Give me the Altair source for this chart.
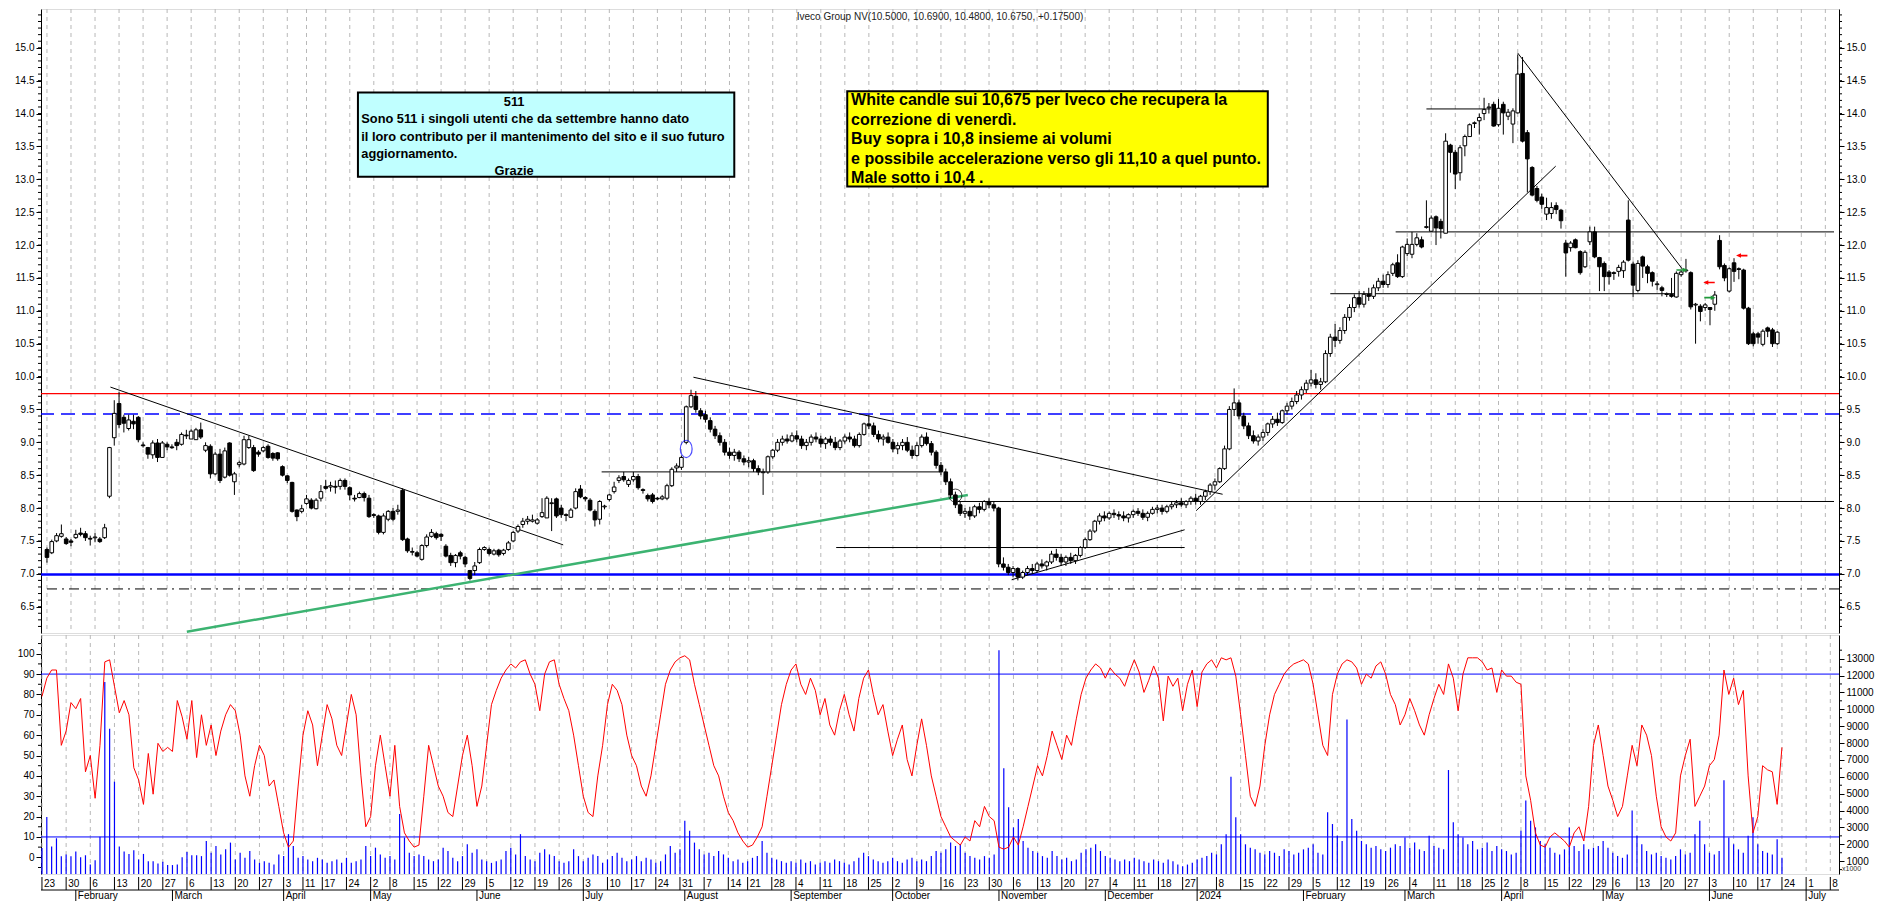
import altair as alt
import numpy as np
import pandas as pd

# ---------------- calendar (trading days) ----------------
HOLIDAYS = {"2023-04-07", "2023-04-10", "2023-05-01", "2023-08-15", "2023-12-25", "2023-12-26",
            "2024-01-01", "2024-03-29", "2024-04-01", "2024-05-01"}
CAL = [d for d in pd.bdate_range("2023-01-23", "2024-07-12") if d.strftime("%Y-%m-%d") not in HOLIDAYS]

# ---------------- price data ----------------
OPEN_A = [7.37, 7.32, 7.50, 7.57, 7.53, 7.50, 7.55, 7.62, 7.61, 7.54, 7.55, 7.53, 7.55, 8.18, 9.07, 9.59, 9.38, 9.21, 9.32, 9.38,
          8.96, 8.92, 8.81, 8.99, 8.77, 8.97, 8.93, 9.00, 8.97, 9.11, 9.05, 9.04, 9.19, 8.88, 8.94, 8.52, 8.82, 8.47, 8.99, 8.40,
          8.66, 8.67, 8.92, 8.92, 8.85, 8.87, 8.94, 8.83, 8.84, 8.63, 8.49, 8.39, 7.97, 7.95, 8.07, 8.12, 7.99, 8.15, 8.33, 8.32,
          8.33, 8.33, 8.42, 8.31, 8.15, 8.16, 8.22, 8.15, 7.90, 7.88, 7.63, 7.83, 7.95, 7.95, 8.27, 7.53, 7.33, 7.32, 7.22, 7.43,
          7.57, 7.61, 7.60, 7.42, 7.28, 7.17, 7.32, 7.25, 7.05, 7.05, 7.17, 7.37, 7.37, 7.30, 7.36, 7.31, 7.37, 7.50, 7.65, 7.75,
          7.80, 7.80, 7.77, 7.87, 7.85, 8.07, 8.14, 8.00, 7.90, 7.86, 8.00, 8.29, 8.16, 8.12, 7.95, 7.83, 8.02, 8.13, 8.25, 8.42,
          8.48, 8.36, 8.43, 8.48, 8.28, 8.19, 8.20, 8.15, 8.14, 8.15, 8.34, 8.61, 8.62, 9.00, 9.54]
HIGH_A = [7.40, 7.52, 7.62, 7.75, 7.56, 7.53, 7.67, 7.70, 7.65, 7.58, 7.62, 7.56, 7.76, 8.93, 9.64, 9.77, 9.42, 9.42, 9.42, 9.40,
          9.00, 8.93, 9.03, 9.05, 9.02, 9.00, 8.97, 9.05, 9.15, 9.19, 9.20, 9.22, 9.30, 9.00, 8.97, 8.85, 8.90, 8.92, 9.00, 8.55,
          8.72, 9.10, 9.10, 8.96, 8.88, 8.95, 8.97, 8.85, 8.85, 8.65, 8.50, 8.40, 7.98, 8.05, 8.20, 8.15, 8.15, 8.35, 8.43, 8.40,
          8.42, 8.45, 8.45, 8.33, 8.20, 8.25, 8.25, 8.20, 7.92, 7.90, 7.92, 7.97, 8.00, 8.05, 8.30, 7.55, 7.40, 7.35, 7.45, 7.60,
          7.68, 7.64, 7.62, 7.45, 7.32, 7.30, 7.35, 7.27, 7.06, 7.18, 7.40, 7.42, 7.40, 7.38, 7.38, 7.38, 7.50, 7.65, 7.75, 7.85,
          7.88, 7.90, 7.85, 8.15, 8.18, 8.15, 8.16, 8.05, 7.92, 8.00, 8.30, 8.35, 8.18, 8.15, 7.98, 8.12, 8.05, 8.22, 8.40, 8.50,
          8.55, 8.45, 8.55, 8.52, 8.30, 8.22, 8.23, 8.17, 8.20, 8.37, 8.62, 8.68, 8.80, 9.56, 9.80]
LOW_A = [7.17, 7.30, 7.48, 7.55, 7.44, 7.42, 7.53, 7.57, 7.50, 7.43, 7.48, 7.47, 7.53, 8.15, 8.95, 9.22, 9.15, 9.18, 9.20, 9.00,
         8.92, 8.75, 8.75, 8.70, 8.77, 8.88, 8.90, 8.88, 8.95, 9.05, 9.05, 9.04, 9.05, 8.85, 8.45, 8.50, 8.38, 8.45, 8.48, 8.20,
         8.62, 8.65, 8.90, 8.55, 8.78, 8.85, 8.75, 8.72, 8.72, 8.48, 8.38, 7.93, 7.80, 7.92, 8.05, 7.98, 7.98, 8.10, 8.28, 8.25,
         8.22, 8.28, 8.28, 8.12, 8.10, 8.15, 8.10, 7.85, 7.85, 7.60, 7.60, 7.80, 7.80, 7.90, 7.50, 7.32, 7.28, 7.25, 7.20, 7.40,
         7.55, 7.52, 7.50, 7.25, 7.12, 7.10, 7.22, 7.10, 6.90, 6.98, 7.15, 7.35, 7.28, 7.28, 7.26, 7.28, 7.35, 7.48, 7.62, 7.70,
         7.75, 7.78, 7.75, 7.85, 7.85, 7.65, 7.85, 7.85, 7.80, 7.85, 7.98, 8.15, 8.10, 7.95, 7.72, 7.75, 7.98, 8.10, 8.22, 8.38,
         8.40, 8.32, 8.40, 8.28, 8.22, 8.10, 8.07, 8.12, 8.12, 8.12, 8.32, 8.55, 8.58, 8.97, 9.52]
CLOSE_A = [7.25, 7.49, 7.58, 7.61, 7.46, 7.48, 7.60, 7.60, 7.55, 7.53, 7.56, 7.49, 7.70, 8.92, 9.44, 9.27, 9.29, 9.34, 9.28, 9.04,
           8.95, 8.82, 8.99, 8.77, 8.99, 8.93, 8.92, 8.95, 9.12, 9.10, 9.17, 9.19, 9.08, 8.95, 8.52, 8.82, 8.42, 8.87, 8.50, 8.52,
           8.69, 9.04, 9.04, 8.57, 8.82, 8.92, 8.77, 8.76, 8.75, 8.50, 8.42, 7.95, 7.87, 7.99, 8.14, 8.00, 8.12, 8.25, 8.30, 8.34,
           8.32, 8.42, 8.33, 8.20, 8.14, 8.22, 8.16, 7.87, 7.89, 7.63, 7.88, 7.95, 7.83, 7.97, 7.52, 7.35, 7.34, 7.27, 7.43, 7.56,
           7.63, 7.55, 7.57, 7.27, 7.17, 7.28, 7.27, 7.15, 6.93, 7.12, 7.37, 7.40, 7.31, 7.35, 7.29, 7.36, 7.47, 7.63, 7.72, 7.80,
           7.83, 7.82, 7.82, 7.93, 8.15, 8.08, 7.88, 7.90, 7.89, 7.97, 8.25, 8.17, 8.14, 7.97, 7.82, 8.10, 8.03, 8.20, 8.32, 8.46,
           8.43, 8.42, 8.48, 8.31, 8.27, 8.14, 8.10, 8.14, 8.17, 8.34, 8.59, 8.64, 8.77, 9.54, 9.71]

OPEN_B = [9.70, 9.48, 9.42, 9.33, 9.20, 9.10, 9.00, 8.85, 8.80, 8.85, 8.75, 8.70, 8.72, 8.60, 8.55, 8.55, 8.78, 8.88, 9.00, 9.05,
          9.02, 9.10, 9.05, 8.95, 9.00, 9.08, 9.05, 8.98, 9.05, 9.00, 8.92, 9.02, 9.08, 9.05, 8.95, 9.12, 9.28, 9.25, 9.12, 9.05,
          9.08, 9.00, 8.90, 8.95, 9.00, 8.88, 8.80, 8.95, 9.08, 8.98, 8.85, 8.65, 8.55, 8.40, 8.20, 8.05, 7.92, 7.95, 7.88, 8.02,
          7.98, 8.10, 8.05, 8.00, 7.15, 7.10, 7.02, 7.08, 6.95, 7.02, 7.08, 7.05, 7.15, 7.12, 7.18, 7.30, 7.25, 7.18, 7.25, 7.20,
          7.28, 7.40, 7.52, 7.65, 7.80, 7.88, 7.85, 7.92, 7.90, 7.88, 7.85, 7.90, 7.95, 7.92, 7.86, 7.92, 7.98, 8.00, 7.95, 8.02,
          8.05, 8.08, 8.05, 8.10, 8.15, 8.10, 8.18, 8.25, 8.35, 8.40, 8.60, 8.90, 9.50, 9.60, 9.40, 9.25, 9.10, 9.02, 9.08, 9.15,
          9.28, 9.35, 9.30, 9.48, 9.55, 9.62, 9.72, 9.80, 9.90, 9.95, 9.88, 9.92, 10.35, 10.60, 10.55, 10.70, 10.90, 11.05, 11.20,
          11.10, 11.25, 11.22, 11.35, 11.45, 11.40]
HIGH_B = [9.78, 9.52, 9.48, 9.38, 9.25, 9.15, 9.05, 8.92, 8.90, 8.88, 8.80, 8.78, 8.75, 8.65, 8.60, 8.80, 8.90, 9.05, 9.10, 9.12,
          9.15, 9.18, 9.10, 9.05, 9.12, 9.15, 9.10, 9.08, 9.10, 9.08, 9.05, 9.12, 9.15, 9.10, 9.15, 9.30, 9.42, 9.30, 9.18, 9.12,
          9.15, 9.05, 9.00, 9.05, 9.08, 8.95, 9.00, 9.12, 9.15, 9.02, 8.88, 8.70, 8.60, 8.45, 8.25, 8.10, 8.00, 8.02, 8.05, 8.08,
          8.12, 8.15, 8.10, 8.02, 7.25, 7.15, 7.12, 7.10, 7.05, 7.12, 7.15, 7.18, 7.22, 7.20, 7.35, 7.38, 7.30, 7.28, 7.32, 7.30,
          7.42, 7.55, 7.68, 7.82, 7.92, 7.95, 7.95, 7.98, 7.95, 7.95, 7.92, 7.98, 8.00, 7.98, 7.95, 8.02, 8.05, 8.05, 8.05, 8.10,
          8.12, 8.15, 8.12, 8.18, 8.22, 8.20, 8.28, 8.38, 8.45, 8.62, 8.95, 9.55, 9.82, 9.65, 9.45, 9.30, 9.18, 9.12, 9.20, 9.30,
          9.40, 9.45, 9.50, 9.60, 9.68, 9.78, 9.85, 9.95, 10.10, 10.05, 9.98, 10.40, 10.65, 10.80, 10.75, 10.95, 11.10, 11.25,
          11.30, 11.30, 11.35, 11.40, 11.50, 11.55, 11.60]
LOW_B = [9.45, 9.35, 9.30, 9.15, 9.05, 8.95, 8.80, 8.75, 8.72, 8.70, 8.65, 8.62, 8.55, 8.50, 8.20, 8.52, 8.75, 8.85, 8.95, 8.98,
         9.00, 9.00, 8.90, 8.88, 8.95, 9.00, 8.92, 8.90, 8.95, 8.88, 8.88, 8.98, 9.00, 8.92, 8.92, 9.10, 9.20, 9.08, 9.00, 8.95,
         8.98, 8.85, 8.82, 8.88, 8.85, 8.75, 8.78, 8.92, 8.95, 8.80, 8.60, 8.50, 8.35, 8.15, 8.00, 7.88, 7.85, 7.82, 7.85, 7.92,
         7.95, 8.00, 7.95, 7.10, 7.05, 6.98, 6.95, 6.90, 6.92, 6.98, 7.00, 7.02, 7.08, 7.05, 7.15, 7.20, 7.12, 7.12, 7.15, 7.15,
         7.25, 7.38, 7.50, 7.62, 7.75, 7.80, 7.82, 7.85, 7.82, 7.80, 7.78, 7.85, 7.88, 7.82, 7.80, 7.90, 7.92, 7.90, 7.92, 7.98,
         8.00, 8.02, 8.00, 8.05, 8.05, 8.05, 8.12, 8.20, 8.28, 8.38, 8.58, 8.88, 9.40, 9.35, 9.20, 9.05, 8.98, 8.95, 9.02, 9.10,
         9.22, 9.25, 9.28, 9.42, 9.50, 9.58, 9.65, 9.75, 9.85, 9.82, 9.80, 9.90, 10.30, 10.45, 10.50, 10.65, 10.85, 10.98, 11.05,
         11.05, 11.15, 11.18, 11.30, 11.35, 11.35]
CLOSE_B = [9.50, 9.40, 9.35, 9.20, 9.10, 9.00, 8.85, 8.80, 8.85, 8.75, 8.70, 8.72, 8.60, 8.55, 8.55, 8.78, 8.88, 9.00, 9.05, 9.02,
           9.10, 9.05, 8.95, 9.00, 9.08, 9.05, 8.98, 9.05, 9.00, 8.92, 9.02, 9.08, 9.05, 8.95, 9.12, 9.28, 9.25, 9.12, 9.05, 9.08,
           9.00, 8.90, 8.95, 9.00, 8.88, 8.80, 8.95, 9.08, 8.98, 8.85, 8.65, 8.55, 8.40, 8.20, 8.05, 7.92, 7.95, 7.88, 8.02, 7.98,
           8.10, 8.05, 8.00, 7.15, 7.10, 7.02, 7.08, 6.95, 7.02, 7.08, 7.05, 7.15, 7.12, 7.18, 7.30, 7.25, 7.18, 7.25, 7.20, 7.28,
           7.40, 7.52, 7.65, 7.80, 7.88, 7.85, 7.92, 7.90, 7.88, 7.85, 7.90, 7.95, 7.92, 7.86, 7.92, 7.98, 8.00, 7.95, 8.02, 8.05,
           8.08, 8.05, 8.10, 8.15, 8.10, 8.18, 8.25, 8.35, 8.40, 8.60, 8.90, 9.50, 9.60, 9.40, 9.25, 9.10, 9.02, 9.08, 9.15, 9.28,
           9.35, 9.30, 9.48, 9.55, 9.62, 9.72, 9.80, 9.90, 9.95, 9.88, 9.92, 10.35, 10.60, 10.55, 10.70, 10.90, 11.05, 11.20,
           11.10, 11.25, 11.22, 11.35, 11.45, 11.40, 11.55]

OPEN_C = [11.57, 11.73, 11.52, 11.87, 11.86, 12.01, 12.08, 12.27, 12.21, 12.43, 12.36, 12.18, 13.52, 13.41, 13.10, 13.51, 13.65,
          13.85, 13.89, 14.00, 14.09, 14.14, 13.83, 14.14, 13.96, 13.84, 14.01, 14.61, 13.71, 13.18, 12.86, 12.73, 12.47, 12.48,
          12.60, 12.53, 12.03, 11.96, 12.08, 11.90, 11.67, 12.05, 12.20, 11.81, 11.72, 11.59, 11.58, 11.60, 11.61, 12.38, 11.71,
          11.31, 11.82, 11.67, 11.58, 11.40, 11.35, 11.25, 11.25, 11.21, 11.55, 11.61, 11.58, 11.09, 11.07, 11.05, 11.05, 11.10,
          12.07, 11.69, 11.30, 11.73, 11.64, 11.62, 11.04, 10.65, 10.65, 10.49, 10.74, 10.71, 10.50]
HIGH_C = [11.73, 11.86, 11.99, 12.10, 12.20, 12.18, 12.13, 12.68, 12.45, 12.45, 12.40, 13.70, 13.54, 13.45, 13.52, 13.68, 13.85,
          13.88, 14.00, 14.24, 14.16, 14.18, 14.22, 14.18, 14.07, 14.08, 14.90, 14.86, 13.75, 13.20, 12.90, 12.78, 12.72, 12.65,
          12.65, 12.55, 12.08, 12.06, 12.10, 11.92, 11.92, 12.28, 12.28, 11.82, 11.75, 11.62, 11.60, 11.70, 11.77, 12.68, 11.75,
          11.77, 11.84, 11.70, 11.60, 11.45, 11.38, 11.28, 11.50, 11.60, 11.62, 11.79, 11.60, 11.12, 11.10, 11.12, 11.05, 11.30,
          12.15, 11.72, 11.66, 11.80, 11.66, 11.64, 11.06, 10.68, 10.68, 10.72, 10.76, 10.74, 10.69]
LOW_C = [11.53, 11.50, 11.50, 11.83, 11.80, 11.98, 11.95, 12.25, 12.20, 12.00, 12.10, 12.18, 13.10, 12.85, 12.98, 13.35, 13.65,
         13.78, 13.68, 13.90, 14.00, 13.80, 13.80, 13.68, 13.90, 13.55, 14.00, 13.56, 12.80, 12.74, 12.65, 12.55, 12.38, 12.40,
         12.47, 12.25, 11.52, 11.90, 11.95, 11.55, 11.65, 12.00, 11.80, 11.30, 11.30, 11.40, 11.47, 11.52, 11.50, 11.75, 11.21,
         11.28, 11.50, 11.42, 11.37, 11.32, 11.22, 11.21, 11.20, 11.20, 11.52, 11.58, 11.02, 10.50, 10.84, 11.00, 10.78, 11.00,
         11.63, 11.45, 11.28, 11.44, 11.48, 11.02, 10.48, 10.46, 10.50, 10.46, 10.60, 10.45, 10.48]
CLOSE_C = [11.70, 11.52, 11.97, 12.01, 12.01, 12.11, 11.97, 12.28, 12.41, 12.26, 12.25, 13.58, 13.41, 13.08, 13.48, 13.65, 13.83,
           13.86, 13.94, 14.06, 14.10, 13.81, 14.08, 14.01, 14.02, 14.04, 14.60, 13.58, 13.31, 12.76, 12.68, 12.62, 12.57, 12.57,
           12.54, 12.37, 11.88, 12.03, 11.96, 11.58, 11.89, 12.20, 11.82, 11.67, 11.52, 11.52, 11.57, 11.66, 11.74, 11.77, 11.39,
           11.72, 11.68, 11.57, 11.45, 11.41, 11.31, 11.26, 11.22, 11.57, 11.59, 11.62, 11.06, 11.10, 10.99, 11.09, 11.02, 11.24,
           11.67, 11.50, 11.64, 11.60, 11.63, 11.04, 10.50, 10.50, 10.60, 10.69, 10.69, 10.50, 10.675]

OPEN = OPEN_A + OPEN_B + OPEN_C
HIGH = HIGH_A + HIGH_B + HIGH_C
LOW = LOW_A + LOW_B + LOW_C
CLOSE = CLOSE_A + CLOSE_B + CLOSE_C
N = min(len(OPEN), len(HIGH), len(LOW), len(CLOSE))

# stochastic oscillator (left scale, 0-100)
STOCH = [79, 88, 92, 92, 55, 62, 76, 73, 78, 42, 50, 29, 55, 96, 97, 84, 71, 77, 70, 44, 38, 26, 51, 31, 56, 52, 54, 52,
         77, 69, 58, 77, 49,
         70, 55, 65, 50, 62, 70, 75, 72, 60, 40, 30, 45, 55, 50, 35, 38, 25, 12,
         5, 8, 35, 60, 72, 65, 45, 60, 75, 68, 55, 50, 65, 80, 70, 40, 15, 20, 45, 60,
         45, 30, 55, 25, 12, 8, 5, 6, 30, 55, 45, 35, 30, 22, 20, 35, 50, 60, 45, 25,
         35, 55, 75, 82, 88, 92, 95, 93, 96, 97, 90, 85, 72, 90, 96, 97, 85, 78, 72, 60,
         45, 30, 22, 20, 40, 55, 75, 85, 82, 75, 60, 50, 45, 35, 30, 40, 55, 70, 85, 92,
         96, 98, 99, 97, 85, 75, 65, 55, 45, 40, 30, 22, 18, 12, 8, 5, 6, 10, 15, 30,
         45, 60, 75, 85, 92, 95, 85, 80, 88, 82, 70, 78, 65, 60, 72, 80, 70, 62, 78, 88,
         92, 80, 70, 75, 62, 50, 58, 65, 48, 40, 55, 68, 55, 40, 30, 20, 15, 10, 8, 6,
         10, 8, 18, 15, 25, 20, 18, 5, 4, 5, 10, 6, 15, 25, 35, 45, 40, 50, 62, 55,
         48, 60, 55, 68, 80, 88, 92, 95, 93, 88, 93, 90, 88, 84, 91, 97, 91, 81, 87, 94,
         88, 67, 89, 84, 88, 72, 85, 92, 74, 91, 95, 97, 93, 98, 97, 98, 89,
         70, 50, 30, 25, 35, 55, 70, 80, 85, 90, 93, 95, 96, 97, 95, 85, 70, 55,
         50, 80, 90, 95, 97, 96, 93, 85, 90, 88, 94, 96, 90, 80, 75, 65, 70, 78, 72, 65, 60, 70, 78, 85, 80,
         95, 88, 72, 90, 98, 98, 98, 96, 92, 93, 81, 92, 89, 89, 86, 85,
         40, 28, 12, 6, 5, 10, 12, 10, 8, 5, 12, 15, 8,
         25, 55, 65, 50, 35, 28, 20, 25, 40, 55, 45, 65, 60, 50, 30, 15, 10, 8, 12, 40, 50, 58, 25, 30, 35, 45, 48,
         60, 92, 80, 88, 75, 82, 40, 12, 20, 45, 43, 42, 26, 54]
# volume, thousands of shares (right scale)
VOL = [1775, 3616, 1870, 2357, 1290, 1390, 1290, 1580, 1230, 1350, 806, 1060, 2450, 11620, 8850, 5710, 1870, 1580, 1430,
       1640, 1100, 1430, 1000, 1000, 860, 960, 770, 770, 810, 1230, 1540, 1350, 1350,
       1300, 2200, 1500, 1900, 1400, 1700, 2100, 1100, 1500, 1200, 1600, 1100, 900, 1000, 900, 800, 1400, 1300, 2600,
       1900, 1200, 1300, 1100, 1000, 1200, 1100, 900, 1000, 1100, 900, 1200, 900, 1000, 1100, 1900, 1300, 1800, 1400,
       1200, 1300, 1100, 3800, 2400, 1500, 1300, 1400, 1300, 1100, 1000, 1100, 1800, 1600, 1200, 1000, 1300, 2000, 1500,
       1700, 1100, 1000, 900, 1000, 1100, 1600, 1800, 1400, 2600, 1300, 1100, 1000, 1500, 1700, 1400, 1300, 1000, 900,
       1000, 1700, 1300, 1000, 1200, 1400, 1300, 900, 1100, 1300, 1500, 1200, 1000, 1100, 1300, 1000, 1200, 1100, 900,
       1000, 1400, 1900, 1500, 1700, 3400, 2800, 2100, 1700, 1400, 1500, 1300, 1600, 1400, 1200, 1000, 1100, 900, 1000,
       1200, 1300, 2200, 1500, 1200, 1100, 1000, 900, 1000, 900, 1100, 900, 1000, 800, 900, 1000, 900, 1100, 1000, 900,
       800, 1000, 1200, 1500, 1300, 1100, 1000, 900, 1000, 1200, 1000, 900, 1100, 1200, 1000, 1100, 1000, 1300, 1600,
       1500, 1700, 2100, 1900, 2000, 1500, 1300, 1200, 1100, 1300, 1200, 1400, 13500, 6500, 4200, 3000, 3500, 2200, 1800,
       1600, 1500, 1300, 1200, 1600, 1300, 1100, 1200, 1000, 1100, 1500, 1700, 1800, 2000, 1600, 1300, 1200, 1100, 1000,
       1100, 1000, 1200, 1100, 1000, 900, 1100, 1000, 900, 1100, 1000, 800, 700, 800, 900, 1100, 1200, 1300, 1500, 1400,
       2000, 2600, 6000, 3600, 2600, 2000, 1800, 1700, 1500, 1400, 1600, 1500, 1300, 1700, 1600, 1400, 1500, 1700, 1800,
       2000, 1500, 1400, 3900, 3200, 2500, 2200, 9400, 3500, 2800, 2200, 2000, 1800, 1900, 1700, 1600, 1800, 2000, 1900,
       2400, 1800, 2100, 1700, 1600, 2500, 1900, 1800, 1700, 6400, 3300, 2600, 2400, 2000, 2200, 1700, 1800, 2100, 1600,
       1900, 1700, 1600, 1400, 1500, 2800, 4600, 3400, 3000, 2200, 2000, 1800, 1500, 1400, 1700, 3000, 1900, 1600, 2000,
       1700, 1800, 1900, 2200, 1800, 1500, 1300, 1200, 1400, 4000, 2500, 2000, 1600, 1400, 1500, 1300, 1200, 1100, 1300,
       1700, 1400, 1500, 2600, 3400, 2000, 1500, 1400, 1600, 5800, 2400, 2000, 1700, 1500, 2500, 3600, 2000, 1600, 1500,
       1400, 2300, 1200]

PRICE_TICKS = [6.5, 7.0, 7.5, 8.0, 8.5, 9.0, 9.5, 10.0, 10.5, 11.0, 11.5, 12.0, 12.5, 13.0, 13.5, 14.0, 14.5, 15.0]
STOCH_TICKS = [0, 10, 20, 30, 40, 50, 60, 70, 80, 90, 100]
VOL_TICKS = [1000, 2000, 3000, 4000, 5000, 6000, 7000, 8000, 9000, 10000, 11000, 12000, 13000]
MONTHS = ["January", "February", "March", "April", "May", "June", "July", "August", "September", "October",
          "November", "December"]

TITLE = "Iveco Group NV(10.5000, 10.6900, 10.4800, 10.6750, +0.17500)"
CYAN_CENTER = ["511", "Grazie"]
CYAN_LEFT = ["Sono 511 i singoli utenti che da settembre hanno dato",
             "il loro contributo per il mantenimento del sito e il suo futuro",
             "aggiornamento."]
YELLOW_LINES = ["White candle sui 10,675 per Iveco che recupera la",
                "correzione di venerdì.",
                "Buy sopra i 10,8 insieme ai volumi",
                "e possibile accelerazione verso gli 11,10 a quel punto.",
                "Male sotto i 10,4 ."]

# ---------------- geometry ----------------
XMIN, XMAX = -0.2, 371.8
W, H1, H2, H3 = 1798, 624, 239, 24
FONT = "Liberation Sans"

XS = alt.Scale(domain=[XMIN, XMAX], nice=False, zero=False)
YP = alt.Scale(domain=[6.10, 15.59], nice=False, zero=False)
YS = alt.Scale(domain=[-8.2, 109.2], nice=False, zero=False)
YV = alt.Scale(domain=[240, 14400], nice=False, zero=False)


def xq(f="i"):
    return alt.X(f + ":Q", scale=XS, axis=None)


def yq(f, sc):
    return alt.Y(f + ":Q", scale=sc, axis=None)


AXB = dict(title=None, grid=False, domainColor="black", tickColor="black", tickSize=5, labelFontSize=10,
           labelFont=FONT, labelColor="black", labelPadding=2)

# ---------------- tables ----------------
candles = pd.DataFrame({"i": range(N), "open": OPEN[:N], "high": HIGH[:N], "low": LOW[:N], "close": CLOSE[:N]})
candles["btop"] = candles[["open", "close"]].max(axis=1)
candles["bbot"] = candles[["open", "close"]].min(axis=1)
thin = (candles["btop"] - candles["bbot"]) < 0.012
candles.loc[thin, "bbot"] = candles.loc[thin, "btop"] - 0.012

osc = pd.DataFrame({"i": range(len(STOCH)), "stoch": STOCH})
vol = pd.DataFrame({"i": range(len(VOL)), "vol": VOL})

week_i, prev = [], None
for k, d in enumerate(CAL):
    key = d.isocalendar()[:2]
    if key != prev:
        week_i.append(k)
        prev = key
week_i = [k for k in week_i if k <= XMAX]
weeks = pd.DataFrame({"i": week_i,
                      "label": ["" if CAL[k].strftime("%Y-%m-%d") == "2024-01-02" else str(CAL[k].day) for k in week_i]})

month_i = [k for k in range(1, len(CAL)) if CAL[k].month != CAL[k - 1].month and k <= XMAX]
months = pd.DataFrame({"i": month_i,
                       "label": ["2024" if CAL[k].month == 1 else MONTHS[CAL[k].month - 1] for k in month_i]})

segs = pd.DataFrame({
    "i": [13.2, 134.5, 200.7, 164.2, 115.4, 189.5, 239.1, 306.0, 287.0, 267.0, 280.6],
    "p": [9.84, 9.99, 6.91, 7.40, 8.55, 8.10, 7.96, 14.92, 14.07, 11.26, 12.20],
    "i2": [107.4, 244.6, 236.7, 236.7, 185.8, XMAX, 313.9, 340.3, 300.4, 339.0, XMAX],
    "p2": [7.44, 8.21, 7.67, 7.40, 8.55, 8.10, 13.20, 11.63, 14.07, 11.26, 12.20],
})
green = pd.DataFrame({"i": [29.1], "p": [6.12], "i2": [191.6], "p2": [8.20]})

boxes = pd.DataFrame({"i": [64.7, 166.5], "i2": [143.0, 254.0], "p": [14.32, 14.34], "p2": [13.04, 12.89],
                      "fill": ["#c0ffff", "#ffff00"]})
cyan_c = pd.DataFrame({"i": [97.2, 97.2], "p": [14.175, 13.13], "t": CYAN_CENTER})
cyan_l = pd.DataFrame({"i": [65.4] * 3, "p": [13.91, 13.65, 13.39], "t": CYAN_LEFT})
yellow = pd.DataFrame({"i": [167.3] * 5, "p": [14.205, 13.906, 13.607, 13.308, 13.024], "t": YELLOW_LINES})
title_df = pd.DataFrame({"i": [185.8], "p": [15.475], "t": [TITLE]})

ellipse = pd.DataFrame({"i": [133.0], "p": [8.90]})
circle = pd.DataFrame({"i": [189.0], "p": [8.19]})
arrows = pd.DataFrame({"i": [340.2, 346.0, 345.8, 352.6], "p": [11.62, 11.20, 11.43, 11.84],
                       "ang": [90, 90, 270, 270], "col": ["#1f9a3a", "#1f9a3a", "#ff0000", "#ff0000"]})

minor_p = pd.DataFrame({"v": [round(v, 1) for v in np.arange(6.2, 15.55, 0.1)]})
minor_s = pd.DataFrame({"v": [-5, 5, 15, 25, 35, 45, 55, 65, 75, 85, 95, 105]})
minor_v = pd.DataFrame({"v": [500 + 1000 * k for k in range(14)]})

# ---------------- upper panel ----------------
grid = alt.Chart(weeks).mark_rule(color="#b8b8b8", strokeDash=[4, 4], strokeWidth=1).encode(x=xq())


def hline(val, **kw):
    return alt.Chart(pd.DataFrame({"p": [val]})).mark_rule(**kw).encode(y=yq("p", YP))


wicks = alt.Chart(candles).mark_rule(color="black", strokeWidth=1).encode(
    x=xq(), y=alt.Y("low:Q", scale=YP, axis=alt.Axis(orient="left", values=PRICE_TICKS, format=".1f",
                                                       minExtent=32, maxExtent=32, **AXB)),
    y2="high:Q")
bodies = alt.Chart(candles).mark_bar(size=3.6, stroke="black", strokeWidth=1).encode(
    x=xq(), y=alt.Y("btop:Q", scale=YP, axis=alt.Axis(orient="right", values=PRICE_TICKS, format=".1f",
                                                        minExtent=35, maxExtent=35, **AXB)),
    y2="bbot:Q",
    fill=alt.condition("datum.close >= datum.open", alt.value("white"), alt.value("black")))

seg_layer = alt.Chart(segs).mark_rule(color="black", strokeWidth=1).encode(
    x=xq(), x2="i2:Q", y=yq("p", YP), y2="p2:Q")
green_layer = alt.Chart(green).mark_rule(color="#3cb371", strokeWidth=2.5).encode(
    x=xq(), x2="i2:Q", y=yq("p", YP), y2="p2:Q")

ell_layer = alt.Chart(ellipse).mark_point(
    shape="M0,-1A0.68,1 0 1,1 0,1A0.68,1 0 1,1 0,-1Z", size=300, color="#0000ff", strokeWidth=1.2,
    filled=False).encode(x=xq(), y=yq("p", YP))
circ_layer = alt.Chart(circle).mark_point(shape="circle", size=170, color="black", strokeWidth=1,
                                          filled=False).encode(x=xq(), y=yq("p", YP))
arrow_layer = alt.Chart(arrows).mark_point(shape="arrow", size=130, filled=True, strokeWidth=0, opacity=1).encode(
    x=xq(), y=yq("p", YP), angle=alt.Angle("ang:Q", scale=None), color=alt.Color("col:N", scale=None))

box_layer = alt.Chart(boxes).mark_rect(stroke="black", strokeWidth=2).encode(
    x=xq(), x2="i2:Q", y=yq("p", YP), y2="p2:Q", fill=alt.Fill("fill:N", scale=None))
cyan_c_layer = alt.Chart(cyan_c).mark_text(align="center", baseline="middle", font=FONT, fontSize=12.8,
                                           fontWeight="bold", color="black").encode(
    x=xq(), y=yq("p", YP), text="t:N")
cyan_l_layer = alt.Chart(cyan_l).mark_text(align="left", baseline="middle", font=FONT, fontSize=12.8,
                                           fontWeight="bold", color="black").encode(
    x=xq(), y=yq("p", YP), text="t:N")
yellow_layer = alt.Chart(yellow).mark_text(align="left", baseline="middle", font=FONT, fontSize=16,
                                           fontWeight="bold", color="black").encode(
    x=xq(), y=yq("p", YP), text="t:N")
title_layer = alt.Chart(title_df).mark_text(align="center", baseline="middle", font=FONT, fontSize=10,
                                            color="#222").encode(x=xq(), y=yq("p", YP), text="t:N")

minor_pl = alt.Chart(minor_p).mark_rule(color="black").encode(
    y=yq("v", YP), x=alt.value(-3), x2=alt.value(0))
minor_pr = alt.Chart(minor_p).mark_rule(color="black").encode(
    y=yq("v", YP), x=alt.value(W), x2=alt.value(W + 3))

upper = alt.layer(
    grid,
    hline(9.74, color="#ff0000", strokeWidth=1.3),
    hline(9.43, color="#0000ff", strokeWidth=1.5, strokeDash=[14, 7]),
    hline(6.99, color="#0000ff", strokeWidth=2.5),
    hline(6.77, color="black", strokeWidth=1, strokeDash=[10, 5, 2, 5]),
    green_layer, seg_layer, wicks, bodies, ell_layer, circ_layer, arrow_layer,
    box_layer, cyan_c_layer, cyan_l_layer, yellow_layer, title_layer, minor_pl, minor_pr,
).resolve_axis(y="independent").properties(width=W, height=H1)

# ---------------- lower panel ----------------
hl_osc = alt.Chart(pd.DataFrame({"s": [90, 10]})).mark_rule(color="#0000ff", strokeWidth=1).encode(
    y=yq("s", YS))
vol_layer = alt.Chart(vol).mark_rule(color="#0000ff", strokeWidth=1.2).encode(
    x=xq(), y=alt.Y("vol:Q", scale=YV, axis=alt.Axis(orient="right", values=VOL_TICKS, format="d",
                                                       minExtent=35, maxExtent=35, **AXB)),
    y2=alt.value(H2))
osc_layer = alt.Chart(osc).mark_line(color="#ff0000", strokeWidth=1).encode(
    x=xq(), y=alt.Y("stoch:Q", scale=YS, axis=alt.Axis(orient="left", values=STOCH_TICKS, format="d",
                                                         minExtent=32, maxExtent=32, **AXB)))
minor_sl = alt.Chart(minor_s).mark_rule(color="black").encode(
    y=yq("v", YS), x=alt.value(-3), x2=alt.value(0))
minor_vr = alt.Chart(minor_v).mark_rule(color="black").encode(
    y=yq("v", YV), x=alt.value(W), x2=alt.value(W + 3))
x1000 = alt.Chart(pd.DataFrame({"t": ["x1000"]})).mark_text(
    align="left", baseline="middle", font=FONT, fontSize=7, color="#333").encode(
    text="t:N", x=alt.value(W + 3), y=alt.value(H2 - 5))

lower = alt.layer(grid, hl_osc, vol_layer, osc_layer, minor_sl, minor_vr, x1000).resolve_scale(
    y="independent").resolve_axis(y="independent").properties(width=W, height=H2)

# ---------------- date axis panel ----------------
R1 = 13
wk_rules = alt.Chart(weeks).mark_rule(color="black", strokeWidth=1).encode(
    x=xq(), y=alt.value(0), y2=alt.value(R1))
mid_rule = alt.Chart(pd.DataFrame({"a": [0]})).mark_rule(color="black", strokeWidth=1).encode(
    x=alt.value(0), x2=alt.value(W), y=alt.value(R1))
mo_rules = alt.Chart(months).mark_rule(color="black", strokeWidth=1).encode(
    x=xq(), y=alt.value(R1), y2=alt.value(H3))
day_txt = alt.Chart(weeks).mark_text(align="left", baseline="middle", dx=2, font=FONT, fontSize=10,
                                     color="black").encode(x=xq(), y=alt.value(R1 / 2 + 0.5), text="label:N")
mo_txt = alt.Chart(months).mark_text(align="left", baseline="middle", dx=2, font=FONT, fontSize=10,
                                     color="black").encode(x=xq(), y=alt.value(R1 + 6), text="label:N")

axis_panel = alt.layer(wk_rules, mid_rule, mo_rules, day_txt, mo_txt).properties(
    width=W, height=H3, view=alt.ViewBackground(stroke="transparent"))

chart = alt.vconcat(upper, lower, axis_panel, spacing=0).properties(padding=0).configure_view(
    stroke="black", strokeWidth=1).configure(font=FONT)

chart.save("out.html", embed_options={"renderer": "svg", "actions": False})
